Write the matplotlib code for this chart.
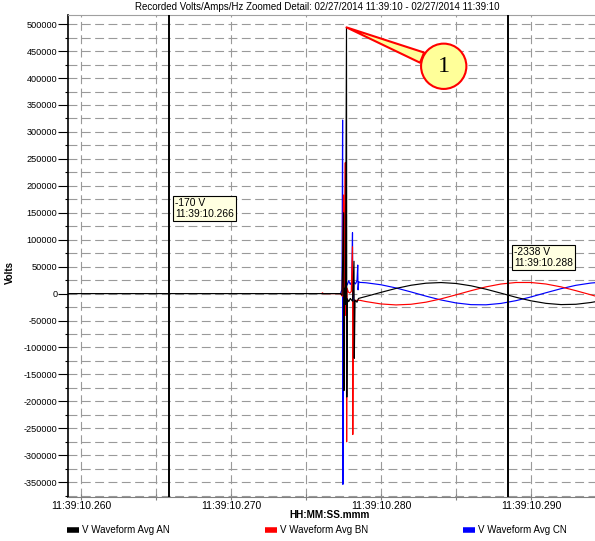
import matplotlib
matplotlib.use("Agg")
import matplotlib.pyplot as plt
from matplotlib.ticker import MultipleLocator, FuncFormatter
from matplotlib.lines import Line2D

plt.rcParams['font.family'] = ['Liberation Sans', 'DejaVu Sans']
plt.rcParams['axes.unicode_minus'] = False

# time axis: milliseconds after 11:39:10.000
t_pre = [259.1, 277.30]
v_pre = [0, 0]

# transient burst, hand-read from the record
an_t = [277.40, 277.51, 277.53, 277.57, 277.63, 277.70, 277.72, 277.76, 277.85,
        277.95, 278.10, 278.20, 278.22, 278.27, 278.40, 278.50]
an_v = [-3000, 150000, -180000, 10000, -20000, 494000, -192000, -10000, -15000,
        -9000, -14000, 60000, -120000, -12000, -16000, -9000]

bn_t = [277.42, 277.50, 277.52, 277.56, 277.62, 277.64, 277.69, 277.71, 277.74,
        277.82, 277.92, 278.02, 278.10, 278.12, 278.16, 278.30, 278.45]
bn_v = [-5000, 183000, -150000, 20000, 243000, -40000, 30000, -275000, 10000,
        3000, 1000, 4000, 87000, -261500, -15000, -13000, -12000]

cn_t = [277.40, 277.44, 277.46, 277.48, 277.55, 277.65, 277.75, 277.85, 277.95,
        278.05, 278.10, 278.12, 278.18, 278.30, 278.40, 278.45, 278.47, 278.52]
cn_v = [8000, 322000, -354000, 30000, 18000, 24000, 16000, 24000, 17000,
        22000, 113000, -15000, 22000, 18000, 24000, 53000, 7000, 22000]

# steady 60 Hz after the event
steady_t = [278.6, 279, 280, 281, 282, 283, 284, 285, 286, 287, 288, 289,
            290, 291, 292, 293, 294, 294.3]
an_steady = [-8200, -5300, 2300, 9600, 15500, 19300, 20500, 18800, 14500, 8200,
             800, -6800, -13400, -18100, -20400, -19800, -16500, -15000]
bn_steady = [-12500, -14800, -19200, -21000, -19800, -15900, -9800, -2300, 5400,
             12500, 17800, 20600, 20600, 17800, 12500, 5400, -2300, -4700]
cn_steady = [20800, 20100, 16400, 10500, 3100, -4700, -11800, -17300, -20500,
             -20800, -18200, -13100, -6200, 1600, 9100, 15400, 19600, 20300]

# small blip on BN before the event
bn_blip_t = [276.05, 276.10, 276.15]
bn_blip_v = [0, 1500, 0]

cursor_t = [265.87, 288.45]
cursor_v = [-170, -2338]

series_names = ['V Waveform Avg AN', 'V Waveform Avg BN', 'V Waveform Avg CN']
series_colors = ['#000000', '#ff0000', '#0000ff']

# BN and CN sit at zero under AN before the event, so only AN draws the flat lead-in
an_x = t_pre + an_t + steady_t
an_y = v_pre + an_v + an_steady
bn_x = bn_blip_t + [t_pre[1]] + bn_t + steady_t
bn_y = bn_blip_v + [0] + bn_v + bn_steady
cn_x = [t_pre[1]] + cn_t + steady_t
cn_y = [0] + cn_v + cn_steady

fig = plt.figure(figsize=(5.95, 5.41), dpi=100)
ax = fig.add_axes([67.7 / 595, 1 - 497.3 / 541, 1 - 67.7 / 595, (497.3 - 15) / 541])

ax.plot(cn_x, cn_y, color=series_colors[2], lw=0.85, zorder=3)
ax.plot(bn_x, bn_y, color=series_colors[1], lw=0.85, zorder=4)
ax.plot(an_x, an_y, color=series_colors[0], lw=0.85, zorder=5)

for ct in cursor_t:
    ax.axvline(ct, color='black', lw=1.4, zorder=6)

ax.set_xlim(259.11, 294.27)
ax.set_ylim(-378000, 517000)

ax.yaxis.set_major_locator(MultipleLocator(50000))
ax.yaxis.set_minor_locator(MultipleLocator(25000))
ax.yaxis.set_major_formatter(FuncFormatter(lambda v, p: '%d' % v))
ax.xaxis.set_major_locator(MultipleLocator(10))
ax.xaxis.set_minor_locator(MultipleLocator(5))
ax.xaxis.set_major_formatter(FuncFormatter(lambda v, p: '11:39:%06.3f' % (10 + v / 1000)))

ax.grid(which='both', color='#9a9a9a', lw=0.8, linestyle=(0, (8, 4)), zorder=1)
ax.set_axisbelow(True)

ax.tick_params(axis='y', which='major', direction='out', length=7, width=0.8,
               labelsize=6.6, pad=0.5)
ax.tick_params(axis='y', which='minor', direction='out', length=2.5, width=0.8)
ax.tick_params(axis='x', which='both', direction='inout', length=5, width=0.8,
               color='#808080', labelsize=7.5, pad=0.5)

ax.spines['left'].set_color('black')
ax.spines['left'].set_linewidth(1.2)
ax.spines['bottom'].set_color('#808080')
ax.spines['top'].set_color('#a0a0a0')
ax.spines['right'].set_visible(False)

# cursor readouts
tops = [183000, 92000]
for ct, cv, ty in zip(cursor_t, cursor_v, tops):
    lbl = '%d V\n11:39:%06.3f' % (cv, 10 + round(ct) / 1000)
    ax.annotate(lbl, xy=(ct, ty), xytext=(4.5, -2), textcoords='offset points',
                ha='left', va='top', fontsize=7.4, linespacing=1.1, zorder=8,
                bbox=dict(boxstyle='square,pad=0.2', fc='#ffffe1', ec='black', lw=0.8))

# numbered callout on the AN peak
pk = an_v.index(max(an_v))
ax.annotate('1', xy=(an_t[pk], an_v[pk]), xytext=(70, -28), textcoords='offset points',
            ha='center', va='center', fontsize=17.5, family='Liberation Serif', zorder=9,
            bbox=dict(boxstyle='circle,pad=0.5', fc='#ffff99', ec='red', lw=1.5),
            arrowprops=dict(arrowstyle='wedge,tail_width=0.45,shrink_factor=0.5',
                            fc='#ffff99', ec='red', lw=1.5, shrinkA=0, shrinkB=0))

fig.text(317.5 / 595, 1 - 7.5 / 541,
         'Recorded Volts/Amps/Hz Zoomed Detail: 02/27/2014 11:39:10 - 02/27/2014 11:39:10',
         ha='center', va='center', fontsize=7)
fig.text(10 / 595, 1 - 272 / 541, 'Volts', rotation=90, ha='center', va='center',
         fontsize=7, fontweight='bold')
fig.text(330 / 595, 1 - 515 / 541, 'HH:MM:SS.mmm', ha='center', va='center',
         fontsize=7.2, fontweight='bold')

handles = [Line2D([], [], color=c, lw=4, solid_capstyle='butt') for c in series_colors]
fig.legend(handles, series_names, ncol=3, loc='center left',
           bbox_to_anchor=(66.5 / 595, 1 - 530 / 541), frameon=False, fontsize=7,
           handlelength=1.25, handletextpad=0.3, columnspacing=9.8,
           borderpad=0, borderaxespad=0)

fig.savefig('out.png', dpi=100, facecolor='white')
